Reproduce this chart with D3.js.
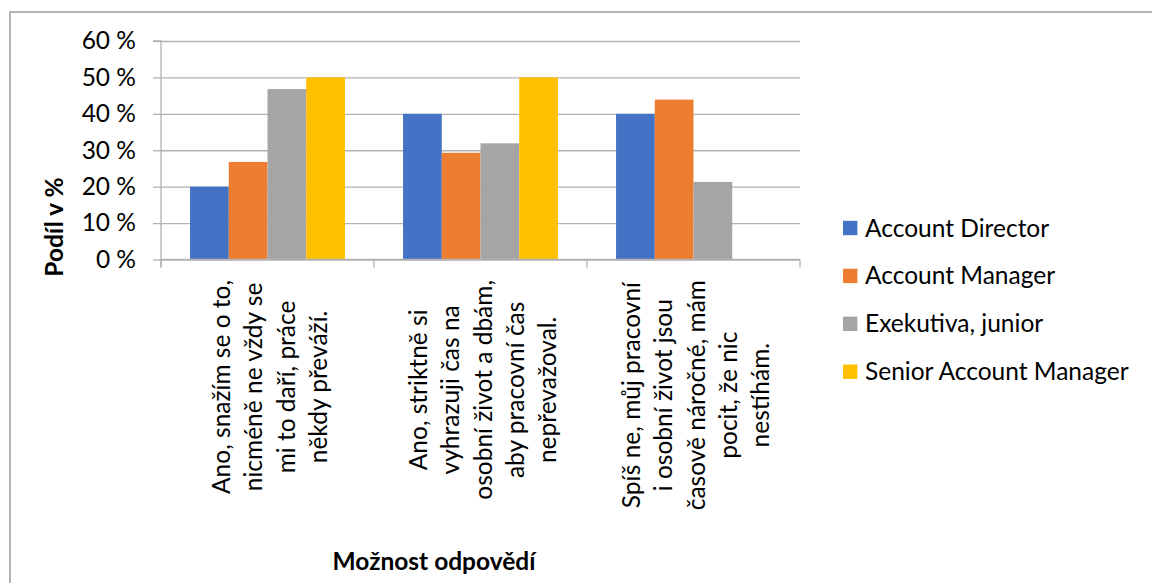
<!DOCTYPE html>
<html lang="cs">
<head>
<meta charset="utf-8">
<script src="https://cdn.jsdelivr.net/npm/d3@7"></script>
<style>
  html, body { margin: 0; padding: 0; background: #fff; }
  svg { display: block; font-family: Lato, "Open Sans", sans-serif; }
</style>
</head>
<body>
<svg id="chart" width="1152" height="583"></svg>
<script>
// Category labels, already broken into lines
const categories = [
  ["Ano, snažím se o to,", "nicméně ne vždy se", "mi to daří, práce", "někdy převáží."],
  ["Ano, striktně si", "vyhrazuji čas na", "osobní život a dbám,", "aby pracovní čas", "nepřevažoval."],
  ["Spíš ne, můj pracovní", "i osobní život jsou", "časově náročné, mám", "pocit, že nic", "nestíhám."]
];
const seriesNames = ["Account Director", "Account Manager", "Exekutiva, junior", "Senior Account Manager"];
const seriesColors = ["#4472C4", "#ED7D31", "#A5A5A5", "#FFC000"];
// Share in percent, one value per category
const accountDirector = [20, 40, 40];
const accountManager = [26.8, 29.3, 43.9];
const exekutivaJunior = [46.8, 31.9, 21.3];
const seniorAccountManager = [50, 50, 0];
const yTicks = [0, 10, 20, 30, 40, 50, 60];
const yTitle = "Podíl v %";
const xTitle = "Možnost odpovědí";

const seriesValues = [accountDirector, accountManager, exekutivaJunior, seniorAccountManager];

const svg = d3.select("#chart");
const gridColor = "#b2b2b2";
const fontSize = 24.5;

// Chart frame
svg.append("rect")
  .attr("x", 10).attr("y", 12)
  .attr("width", 1200).attr("height", 640)
  .attr("fill", "#fff")
  .attr("stroke", "#b4b4b4").attr("stroke-width", 2);

const plot = { left: 161, right: 800, top: 41, bottom: 259.5 };

const catIdx = categories.map((d, i) => i);
const x0 = d3.scaleBand().domain(catIdx).range([plot.left, plot.right]).padding(0);
const x1 = d3.scaleBand().domain(d3.range(seriesNames.length))
  .range([0, x0.bandwidth()]).paddingInner(0).paddingOuter(0.75);
const y = d3.scaleLinear().domain([0, 60]).range([plot.bottom, plot.top]);

// Horizontal gridlines
svg.append("g")
  .attr("transform", `translate(${plot.left},0)`)
  .call(d3.axisLeft(y).tickValues(yTicks).tickSize(-(plot.right - plot.left)).tickFormat(""))
  .call(g => g.select(".domain").remove())
  .call(g => g.selectAll("line").attr("stroke", gridColor).attr("stroke-width", 1.3));

// Y axis with tick marks and labels
svg.append("g")
  .attr("transform", `translate(${plot.left},0)`)
  .call(d3.axisLeft(y).tickValues(yTicks).tickSize(8).tickPadding(17).tickFormat(d => d + " %"))
  .call(g => g.select(".domain").attr("stroke", gridColor).attr("stroke-width", 1.3).attr("d", `M-8,${plot.top}H0V${plot.bottom + 8}`))
  .call(g => g.selectAll("line").attr("stroke", gridColor).attr("stroke-width", 1.3))
  .call(g => g.selectAll("text")
    .attr("font-family", "Lato, sans-serif")
    .attr("font-size", fontSize).attr("fill", "#000"));

// Bars
const groups = svg.append("g").selectAll("g")
  .data(catIdx).join("g")
  .attr("transform", c => `translate(${x0(c)},0)`);
groups.selectAll("rect")
  .data(c => seriesValues.map((vals, s) => ({ s, v: vals[c] })))
  .join("rect")
  .attr("x", d => x1(d.s))
  .attr("width", x1.bandwidth())
  .attr("y", d => y(d.v))
  .attr("height", d => y(0) - y(d.v))
  .attr("fill", d => seriesColors[d.s]);

// X axis line and category separators
const xAxis = svg.append("g");
xAxis.append("line")
  .attr("x1", plot.left).attr("x2", plot.right)
  .attr("y1", y(0)).attr("y2", y(0))
  .attr("stroke", gridColor).attr("stroke-width", 1.3);
const boundaries = catIdx.map(c => x0(c)).concat([x0.range()[1]]);
xAxis.selectAll("line.sep").data(boundaries).join("line")
  .attr("class", "sep")
  .attr("x1", d => d).attr("x2", d => d)
  .attr("y1", y(0)).attr("y2", y(0) + 8)
  .attr("stroke", gridColor).attr("stroke-width", 1.3);

// Rotated, multi-line category labels
const lineH = 32.1;
const labelTop = 280;
categories.forEach((lines, c) => {
  const cx = x0(c) + x0.bandwidth() / 2;
  const g = svg.append("g");
  const t = g.append("text")
    .attr("font-size", fontSize).attr("fill", "#000")
    .attr("text-anchor", "middle");
  const n = lines.length;
  lines.forEach((ln, i) => {
    t.append("tspan").attr("x", 0).attr("y", (i - (n - 1) / 2) * lineH + 11).text(ln);
  });
  const maxW = d3.max(t.selectAll("tspan").nodes(), nd => nd.getComputedTextLength());
  g.attr("transform", `translate(${cx},${labelTop + maxW / 2}) rotate(-90)`);
});

// Axis titles
svg.append("text")
  .attr("transform", `translate(63,227) rotate(-90)`)
  .attr("text-anchor", "middle")
  .attr("font-size", fontSize).attr("font-weight", "bold").attr("fill", "#000")
  .text(yTitle);
svg.append("text")
  .attr("x", 434).attr("y", 570)
  .attr("text-anchor", "middle")
  .attr("font-size", fontSize).attr("font-weight", "bold").attr("fill", "#000")
  .text(xTitle);

// Legend
const legend = svg.append("g").attr("transform", "translate(843,228)");
const items = legend.selectAll("g").data(seriesNames).join("g")
  .attr("transform", (d, i) => `translate(0,${i * 47.9})`);
items.append("rect")
  .attr("x", 0).attr("y", -7.2).attr("width", 14.4).attr("height", 14.4)
  .attr("fill", (d, i) => seriesColors[i]);
items.append("text")
  .attr("x", 22).attr("y", 8.5)
  .attr("font-size", fontSize).attr("fill", "#000")
  .text(d => d);
</script>
</body>
</html>
